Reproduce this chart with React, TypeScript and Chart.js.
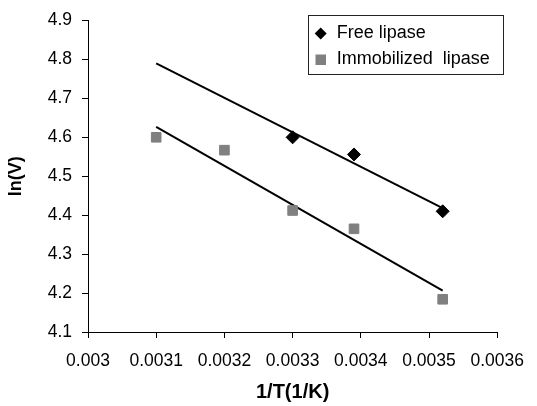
import React, { useEffect, useRef } from "react";
import { Chart, registerables } from "chart.js";

Chart.register(...registerables);

const freeX = [0.0033, 0.00339, 0.00352];
const freeY = [4.6, 4.556, 4.41];
const immX = [0.0031, 0.0032, 0.0033, 0.00339, 0.00352];
const immY = [4.6, 4.567, 4.412, 4.365, 4.184];
const freeTrendX = [0.0031, 0.00352];
const freeTrendY = [4.79, 4.418];
const immTrendX = [0.0031, 0.00352];
const immTrendY = [4.627, 4.206];
const xTicks = [0.003, 0.0031, 0.0032, 0.0033, 0.0034, 0.0035, 0.0036];
const xTickLabels = ["0.003", "0.0031", "0.0032", "0.0033", "0.0034", "0.0035", "0.0036"];
const yTicks = [4.1, 4.2, 4.3, 4.4, 4.5, 4.6, 4.7, 4.8, 4.9];
const yTickLabels = ["4.1", "4.2", "4.3", "4.4", "4.5", "4.6", "4.7", "4.8", "4.9"];
const seriesNames = ["Free lipase", "Immobilized  lipase"];

const FONT = "'Liberation Sans', Arial, sans-serif";
const GREY = "#808080";

const pts = (xs: number[], ys: number[]) => xs.map((x, i) => ({ x, y: ys[i] }));

const legendPlugin = {
  id: "boxLegend",
  afterDraw(chart: any) {
    const ctx = chart.ctx;
    const left = 308, top = 15, w = 195, h = 59;
    ctx.save();
    ctx.fillStyle = "#fff";
    ctx.fillRect(left, top, w, h);
    ctx.strokeStyle = "#222";
    ctx.lineWidth = 1;
    ctx.strokeRect(left + 0.5, top + 0.5, w, h);
    const dx = 320.7, dy = 33.5, r = 6;
    ctx.fillStyle = "#000";
    ctx.beginPath();
    ctx.moveTo(dx, dy - r);
    ctx.lineTo(dx + r, dy);
    ctx.lineTo(dx, dy + r);
    ctx.lineTo(dx - r, dy);
    ctx.closePath();
    ctx.fill();
    ctx.fillStyle = GREY;
    ctx.fillRect(315.5, 54.5, 10.5, 10.5);
    ctx.fillStyle = "#000";
    ctx.font = `18px ${FONT}`;
    ctx.textBaseline = "middle";
    ctx.textAlign = "left";
    ctx.fillText(seriesNames[0], 336.7, 33);
    ctx.fillText(seriesNames[1], 336.7, 59.5);
    ctx.restore();
  },
};

export default function App() {
  const ref = useRef<HTMLCanvasElement | null>(null);
  useEffect(() => {
    document.body.style.margin = "0";
    const canvas = ref.current!;
    const chart = new Chart(canvas, {
      type: "scatter",
      data: {
        datasets: [
          {
            label: seriesNames[0],
            data: pts(freeX, freeY),
            pointStyle: "rectRot",
            pointRadius: 6.5,
            backgroundColor: "#000",
            borderColor: "#000",
            borderWidth: 1,
          },
          {
            label: seriesNames[1],
            data: pts(immX, immY),
            pointStyle: "rect",
            pointRadius: 6.8,
            backgroundColor: GREY,
            borderColor: GREY,
            borderWidth: 1,
          },
          {
            label: "trend1",
            type: "line",
            data: pts(freeTrendX, freeTrendY),
            borderColor: "#000",
            borderWidth: 2,
            pointRadius: 0,
            showLine: true,
            fill: false,
          },
          {
            label: "trend2",
            type: "line",
            data: pts(immTrendX, immTrendY),
            borderColor: "#000",
            borderWidth: 2,
            pointRadius: 0,
            showLine: true,
            fill: false,
          },
        ],
      } as any,
      options: {
        responsive: false,
        animation: false,
        devicePixelRatio: 1,
        layout: { padding: { left: 0, right: 31, top: 20, bottom: 0 } },
        plugins: { legend: { display: false }, tooltip: { enabled: false } },
        scales: {
          x: {
            type: "linear",
            min: 0.003,
            max: 0.0036,
            afterFit: (s: any) => { s.height = 74; },
            afterBuildTicks: (s: any) => { s.ticks = xTicks.map((v) => ({ value: v })); },
            ticks: {
              color: "#000",
              font: { family: FONT, size: 17.5 },
              padding: 13,
              maxRotation: 0,
              autoSkip: false,
              callback: (_v: any, i: number) => xTickLabels[i],
            },
            grid: { drawOnChartArea: false, drawTicks: true, tickLength: 6, color: "#000", lineWidth: 1 },
            border: { display: true, color: "#000", width: 1 },
            title: {
              display: true,
              text: "1/T(1/K)",
              color: "#000",
              font: { family: FONT, size: 20, weight: "bold" },
              padding: { top: 0, bottom: 2 },
            },
          },
          y: {
            type: "linear",
            min: 4.1,
            max: 4.9,
            afterFit: (s: any) => { s.width = 88; },
            afterBuildTicks: (s: any) => { s.ticks = yTicks.map((v) => ({ value: v })); },
            ticks: {
              color: "#000",
              font: { family: FONT, size: 17.5 },
              padding: 10,
              autoSkip: false,
              callback: (_v: any, i: number) => yTickLabels[i],
            },
            grid: { drawOnChartArea: false, drawTicks: true, tickLength: 6, color: "#000", lineWidth: 1 },
            border: { display: true, color: "#000", width: 1 },
            title: {
              display: true,
              text: "ln(V)",
              color: "#000",
              font: { family: FONT, size: 18, weight: "bold" },
              padding: { top: 5, bottom: 0 },
            },
          },
        },
      } as any,
      plugins: [legendPlugin],
    });
    return () => chart.destroy();
  }, []);
  return (
    <div style={{ position: "absolute", left: 0, top: 0, width: 537, height: 406 }}>
      <canvas ref={ref} width={537} height={406} />
    </div>
  );
}
